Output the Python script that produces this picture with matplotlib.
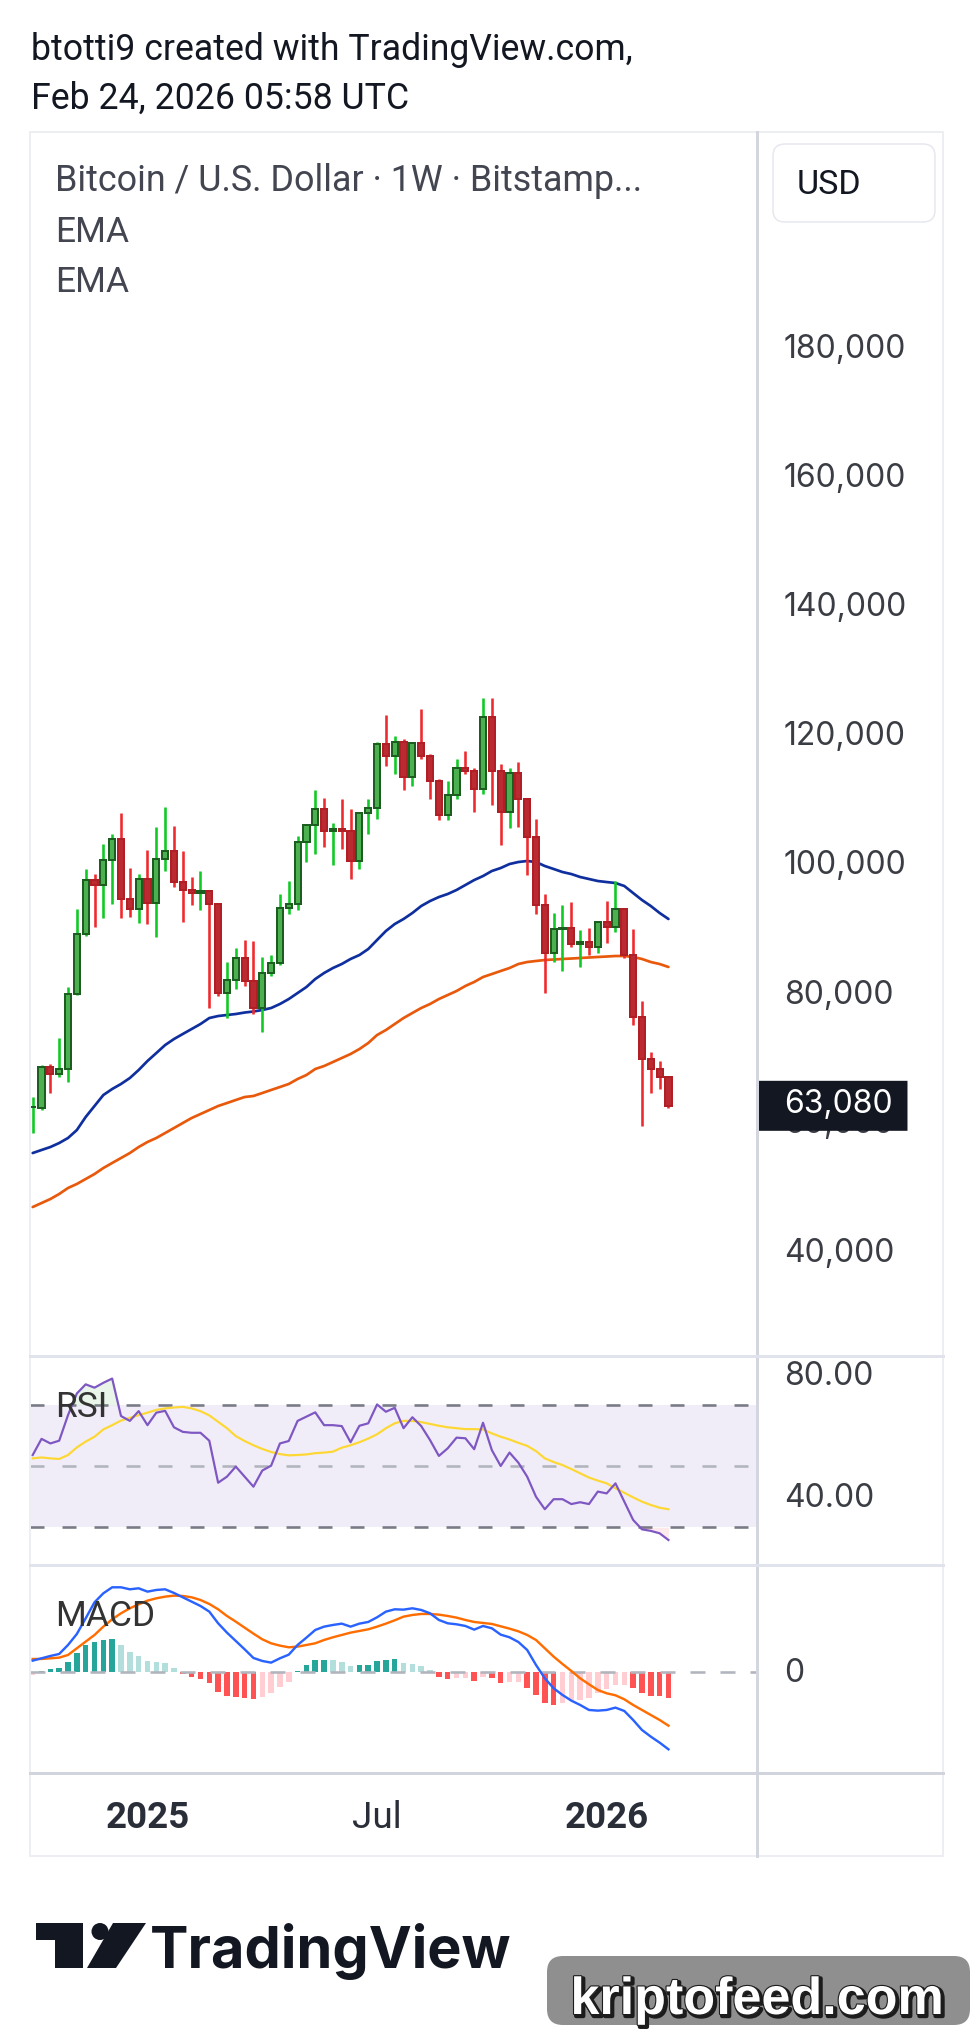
import numpy as np
import pandas as pd
import matplotlib
matplotlib.use('Agg')
import matplotlib.pyplot as plt
import matplotlib.dates as mdates
import matplotlib.patches as mpatches
import matplotlib.patheffects as pe
from matplotlib import transforms

plt.rcParams['font.family'] = ['Roboto', 'DejaVu Sans']

# weekly BTC/USD candles (Bitstamp), first bar week of 2024-10-07
first_week = '2024-10-07'
opens = [62850, 62800, 69040, 67960, 68730, 80340, 89720, 97990, 97210, 101080,
         104330, 95050, 93500, 98250, 94430, 101240, 102480, 97680, 96490, 96100,
         96350, 94270, 80500, 82510, 86010, 82350, 78270, 83590, 85140, 93650,
         94270, 103960, 106500, 108980, 105570, 105880, 105570, 100930, 108360, 109130,
         119040, 117230, 119350, 114030, 119200, 117280, 113410, 108100, 111190, 115330,
         114950, 112080, 123320, 114950, 108620, 114550, 110530, 104640, 94120, 86690,
         90400, 90540, 88080, 88490, 87710, 91490, 90820, 93590, 86420, 76780,
         70270, 68730, 67590]
highs = [64490, 69400, 69550, 73620, 81520, 93550, 99740, 98960, 103610, 105160,
         108400, 99890, 98960, 102680, 106240, 109340, 106390, 102520, 98500, 99480,
         96490, 94430, 85340, 87510, 88750, 88590, 86120, 86420, 95870, 97880,
         104890, 106700, 111970, 110730, 106930, 110570, 109030, 108620, 110570, 119400,
         123620, 120340, 119830, 119300, 124510, 117540, 113670, 113360, 116760, 117990,
         115300, 126260, 126160, 116060, 115420, 116320, 110680, 107480, 95820, 92890,
         94120, 94630, 90290, 90550, 91690, 94780, 97880, 93700, 90450, 79300,
         71410, 69960, 67700]
lows = [58920, 62430, 65110, 67590, 66810, 80200, 89410, 90810, 92200, 94300,
        92200, 92350, 91420, 91220, 89260, 99480, 96960, 91580, 94200, 93390,
        78270, 80080, 76720, 81210, 81670, 77240, 74460, 83220, 84900, 92820,
        93390, 100870, 102060, 103190, 100360, 102880, 98190, 99730, 105160, 107480,
        115730, 114440, 111970, 112590, 116760, 110620, 107320, 107320, 110620, 114440,
        108620, 111400, 109650, 103450, 106130, 106290, 98840, 92780, 80590, 85290,
        83900, 87710, 84580, 86420, 86780, 88270, 90040, 86000, 75590, 60000,
        65110, 65730, 62790]
closes = [62900, 69040, 67960, 68730, 80340, 89720, 97990, 97210, 101080, 104330,
          95050, 93500, 98250, 94430, 101240, 102480, 97680, 96490, 96100, 96350,
          94270, 80500, 82510, 86010, 82350, 78270, 83590, 85140, 93650, 94270,
          103960, 106500, 108980, 105570, 105880, 105570, 100930, 108360, 109130, 119040,
          117230, 119350, 114030, 119200, 117280, 113410, 108100, 111190, 115330, 114950,
          112080, 123320, 114950, 108620, 114550, 110530, 104640, 94120, 86690, 90400,
          90540, 88080, 88490, 87710, 91490, 90820, 93590, 86420, 76780, 70270,
          68730, 67590, 63080]

ema_blue = [55770, 56240, 56700, 57320, 58100, 59330, 61350, 63050, 64750, 65680,
            66460, 67380, 68620, 70020, 71250, 72490, 73420, 74200, 74970, 75740,
            76670, 76980, 77140, 77290, 77520, 77680, 77910, 78220, 78840, 79610,
            80540, 81470, 82710, 83640, 84410, 85030, 85810, 86420, 87350, 88750,
            90140, 91220, 92000, 92930, 94010, 94780, 95400, 95870, 96490, 97260,
            98030, 98650, 99430, 99890, 100510, 100820, 100980, 100820, 100200, 99740,
            99270, 98960, 98500, 98190, 97880, 97720, 97570, 97110, 96020, 94940,
            94010, 92930, 92000]
ema_orange = [47410, 48030, 48650, 49430, 50360, 50980, 51750, 52520, 53450, 54230,
              55000, 55770, 56700, 57480, 58100, 58870, 59640, 60420, 61190, 61810,
              62430, 63050, 63510, 63980, 64440, 64600, 65060, 65530, 65990, 66460,
              67230, 67850, 68780, 69240, 69860, 70480, 71100, 71870, 72800, 74040,
              74810, 75740, 76670, 77450, 78220, 78840, 79610, 80230, 80850, 81630,
              82250, 83020, 83480, 83950, 84410, 85030, 85340, 85500, 85650, 85730,
              85810, 85880, 85960, 86040, 86120, 86190, 86270, 86270, 86120, 85810,
              85340, 85030, 84570]

rsi = [53.7, 59.0, 57.5, 58.4, 66.8, 73.9, 76.9, 75.8, 77.4, 78.8,
       66.5, 64.9, 68.1, 63.5, 67.6, 68.2, 62.8, 61.3, 61.0, 61.0,
       58.4, 44.6, 46.6, 49.9, 46.6, 43.3, 48.6, 50.2, 57.5, 58.3,
       64.9, 66.3, 67.7, 63.5, 63.5, 63.2, 57.9, 63.3, 64.1, 70.3,
       67.9, 69.2, 62.5, 66.1, 63.2, 58.6, 53.4, 55.9, 59.4, 59.2,
       55.6, 64.3, 55.3, 50.1, 54.5, 51.2, 46.6, 40.0, 35.9, 39.2,
       39.2, 37.6, 38.2, 37.6, 41.7, 41.1, 44.4, 38.4, 32.4, 29.3,
       28.8, 28.0, 25.8]
rsi_ma = [52.6, 52.9, 52.6, 52.4, 53.7, 56.2, 58.1, 59.7, 62.1, 63.5,
          65.0, 65.9, 66.8, 67.6, 68.5, 69.0, 69.3, 69.5, 69.0, 68.1,
          66.7, 64.6, 62.5, 59.9, 58.3, 56.9, 55.7, 54.7, 54.0, 53.6,
          53.7, 53.9, 54.3, 54.5, 54.8, 56.1, 56.9, 57.9, 59.1, 60.5,
          62.5, 64.1, 64.9, 64.9, 64.5, 63.9, 63.3, 62.8, 62.5, 62.2,
          62.2, 62.1, 60.8, 59.7, 58.8, 57.7, 56.7, 55.0, 52.6, 51.4,
          50.4, 49.1, 47.7, 46.3, 45.3, 44.4, 42.8, 41.3, 39.8, 38.4,
          37.3, 36.4, 35.9]

macd = [1400, 1680, 1960, 2200, 3280, 4600, 6480, 8400, 9480, 10200,
        10200, 9960, 10080, 9680, 9880, 9960, 9520, 9000, 8480, 7960,
        7280, 5880, 4760, 3760, 2760, 1720, 1360, 1160, 1680, 2120,
        3280, 4160, 5080, 5480, 5680, 5840, 5480, 5840, 6040, 6600,
        7280, 7560, 7520, 7680, 7480, 7080, 6280, 5880, 5760, 5560,
        5120, 5560, 5280, 4520, 4200, 3640, 2680, 880, -720, -1920,
        -2720, -3400, -3920, -4520, -4600, -4520, -4240, -4640, -5720, -6920,
        -7720, -8440, -9240]
signal = [1600, 1600, 1680, 1760, 2080, 2880, 3680, 4480, 5480, 6360,
          7080, 7680, 8160, 8600, 8880, 9080, 9200, 9160, 9000, 8680,
          8200, 7560, 6760, 6080, 5360, 4640, 3960, 3480, 3200, 3000,
          3080, 3280, 3480, 3880, 4200, 4480, 4760, 4960, 5160, 5480,
          5840, 6240, 6680, 6880, 7000, 7000, 6920, 6760, 6560, 6280,
          6040, 5920, 5800, 5520, 5240, 4920, 4480, 3880, 2880, 1880,
          1000, 160, -720, -1440, -2120, -2520, -2760, -3240, -3920, -4520,
          -5120, -5720, -6400]
hist = [-320, 160, 400, 560, 1280, 2280, 3280, 3680, 3880, 4000,
        3280, 2480, 2000, 1400, 1280, 1080, 560, -200, -520, -840,
        -1240, -2320, -2840, -2920, -3040, -3240, -3000, -2520, -1720, -1120,
        120, 880, 1480, 1500, 1440, 1200, 760, 840, 860, 1400,
        1480, 1560, 1080, 1040, 800, 280, -600, -840, -720, -680,
        -1000, -520, -720, -1240, -1200, -1160, -1840, -2720, -3640, -3920,
        -3720, -3320, -3300, -3120, -2440, -2040, -1520, -1480, -1920, -2440,
        -2800, -2840, -3040]

price_ticks = [40000, 60000, 80000, 100000, 120000, 140000, 160000, 180000]
rsi_ticks = [40, 80]
macd_ticks = [0]
time_ticks = ['2025-01-06', '2025-07-07', '2026-01-05']
time_labels = ['2025', 'Jul', '2026']
time_bold = [True, False, True]

header1 = 'btotti9 created with TradingView.com,'
header2 = 'Feb 24, 2026 05:58 UTC'
title = 'Bitcoin / U.S. Dollar \u00b7 1W \u00b7 Bitstamp...'

# ---------------------------------------------------------------
dates = pd.date_range(first_week, periods=len(closes), freq='7D')
x = mdates.date2num(dates)
o = np.array(opens); c = np.array(closes)
hi = np.array(highs); lo = np.array(lows)

W, H = 972, 2037
fig = plt.figure(figsize=(W / 100, H / 100), dpi=100)
fig.patch.set_facecolor('white')


def box(x0, y0, x1, y1):
    return [x0 / W, 1 - y1 / H, (x1 - x0) / W, (y1 - y0) / H]


PX = 72 / 100  # points per pixel
TXT = '#3b3d44'
SCALE_FONT = ['Inter', 'Roboto', 'DejaVu Sans']

ax = fig.add_axes(box(30, 132, 757, 1356))
axr = fig.add_axes(box(30, 1356, 757, 1565), sharex=ax)
axm = fig.add_axes(box(30, 1565, 757, 1773), sharex=ax)
axt = fig.add_axes(box(30, 1773, 757, 1856), sharex=ax)
for a in (ax, axr, axm, axt):
    a.set_facecolor('none')
    for s in a.spines.values():
        s.set_visible(False)
    a.tick_params(left=False, bottom=False, labelleft=False, labelbottom=False)

ax.set_xlim(x[0] - 2.14, x[0] + 574.2)
ax.set_ylim(24350, 213830)
axr.set_ylim(17.6, 86.2)
axm.set_ylim(-12084, 12876)
axt.set_ylim(0, 1)

# candles
up = c >= o
wick_col = np.where(up, '#0fca24', '#ef2a2e')
face_col = np.where(up, '#4caf50', '#bb2931')
edge_col = np.where(up, '#1b5e20', '#b11f26')
ax.vlines(x, lo, hi, colors=wick_col, linewidth=2.6 * PX, zorder=3)
ax.bar(x, np.abs(c - o), bottom=np.minimum(o, c), width=4.9,
       color=face_col, edgecolor=edge_col, linewidth=2.0 * PX, zorder=4)

ax.plot(x, ema_blue, color='#0f2f9e', linewidth=2.7 * PX, zorder=2,
        solid_capstyle='round')
ax.plot(x, ema_orange, color='#e8590c', linewidth=2.7 * PX, zorder=2,
        solid_capstyle='round')

# right scale labels
lab_off = transforms.offset_copy(ax.get_yaxis_transform(), fig=fig, y=-7, units='dots')
for v in price_ticks:
    ax.text(1.0371, v, f'{v:,}', transform=lab_off, ha='left', va='baseline',
            fontsize=23, family=SCALE_FONT, color=TXT, clip_on=False)

# last price tag
last = closes[-1]
tag_tr = ax.get_yaxis_transform()
tag_y = ax.transData.transform((0, last))[1]
b0 = ax.transData.inverted().transform((0, tag_y - 25))[1]
b1 = ax.transData.inverted().transform((0, tag_y + 25))[1]
tag_box = mpatches.FancyBboxPatch((1.002, b0), 0.205, b1 - b0, transform=tag_tr,
                                  boxstyle='round,pad=0,rounding_size=0.008',
                                  facecolor='#131722', edgecolor='none',
                                  clip_on=False, zorder=20)
ax.add_patch(tag_box)
ax.text(1.0371, last, f'{last:,}', transform=lab_off, ha='left', va='baseline',
        fontsize=23, family=SCALE_FONT, color='white', clip_on=False, zorder=21)

# RSI pane
axr.axhspan(30, 70, color='#7e57c2', alpha=0.1, linewidth=0, zorder=0)
for lvl, col in ((70, '#787b86'), (50, '#b2b5be'), (30, '#787b86')):
    axr.axhline(lvl, color=col, linewidth=2.6 * PX, dashes=(14 / 2.6, 18 / 2.6), zorder=1)
r = np.array(rsi)
axr.fill_between(x, r, 70, where=r > 70, interpolate=True, color='#4caf50',
                 alpha=0.12, linewidth=0, zorder=1)
axr.fill_between(x, r, 30, where=r < 30, interpolate=True, color='#f23645',
                 alpha=0.10, linewidth=0, zorder=1)
axr.plot(x, rsi_ma, color='#fdd835', linewidth=2.2 * PX, zorder=2)
axr.plot(x, rsi, color='#7e57c2', linewidth=2.2 * PX, zorder=3)
rlab = transforms.offset_copy(axr.get_yaxis_transform(), fig=fig, y=-10, units='dots')
for v in rsi_ticks:
    axr.text(1.0371, v, f'{v:.2f}', transform=rlab, ha='left', va='baseline',
             fontsize=23, family=SCALE_FONT, color=TXT, clip_on=False)

# MACD pane
hv = np.array(hist)
prev = np.concatenate([[hv[0] - 1], hv[:-1]])
hcol = np.where(hv >= 0, np.where(hv >= prev, '#26a69a', '#b2dfdb'),
                np.where(hv > prev, '#ffcdd2', '#ff5252'))
axm.bar(x, hv, width=4.4, color=hcol, linewidth=0, zorder=1)
axm.axhline(0, color='#b2b5be', linewidth=2.6 * PX, dashes=(15 / 2.6, 15 / 2.6), zorder=2)
axm.plot(x, signal, color='#ff6d00', linewidth=2.4 * PX, zorder=3)
axm.plot(x, macd, color='#2962ff', linewidth=2.4 * PX, zorder=4)
mlab = transforms.offset_copy(axm.get_yaxis_transform(), fig=fig, y=-10, units='dots')
for v in macd_ticks:
    axm.text(1.0371, v, f'{v}', transform=mlab, ha='left', va='baseline',
             fontsize=23, family=SCALE_FONT, color=TXT, clip_on=False)

# time axis
for d, lab, b in zip(time_ticks, time_labels, time_bold):
    axt.text(mdates.date2num(pd.Timestamp(d)), 0.334, lab, ha='center', va='baseline',
             fontsize=26.5, fontweight='bold' if b else 'normal', color='#2a2e39')

# ---------------------------------------------------------------
# overlay in pixel coordinates: frame, texts, logo, watermark
ov = fig.add_axes([0, 0, 1, 1], zorder=10)
ov.set_xlim(0, W)
ov.set_ylim(H, 0)
ov.axis('off')
ov.patch.set_alpha(0)

ov.add_patch(mpatches.Rectangle((30, 132), 913, 1724, fill=False,
                                edgecolor='#eceef2', linewidth=2 * PX))
ov.plot([757, 757], [132, 1856], color='#d3d6de', linewidth=3 * PX)
for yy, col in ((1356, '#e0e3eb'), (1565, '#e0e3eb'), (1773, '#d1d4dc')):
    ov.plot([30, 943], [yy, yy], color=col, linewidth=3 * PX)

ov.text(31, 59.5, header1, fontsize=25.7, color='#131722', va='baseline')
ov.text(31, 109, header2, fontsize=25.7, color='#131722', va='baseline')
ov.text(55, 191, title, fontsize=25.8, color='#434651', va='baseline')
ov.text(55, 242, 'EMA', fontsize=25.5, color='#434651', va='baseline')
ov.text(55, 292, 'EMA', fontsize=25.5, color='#434651', va='baseline')
ov.text(55, 1417, 'RSI', fontsize=25.5, color='#333333', va='baseline')
ov.text(55, 1626, 'MACD', fontsize=25.5, color='#333333', va='baseline')

ov.add_patch(mpatches.FancyBboxPatch((773, 144), 162, 78,
                                     boxstyle='round,pad=0,rounding_size=12',
                                     facecolor='white', edgecolor='#e6e8ee',
                                     linewidth=1.5 * PX))
ov.text(797, 194, 'USD', fontsize=24.5, color='#131722', va='baseline')

# TradingView logo
ov.add_patch(mpatches.Polygon([(36, 1923), (83, 1923), (83, 1968), (55, 1968),
                               (55, 1940), (36, 1940)], closed=True,
                              facecolor='#131722', edgecolor='none'))
ov.add_patch(mpatches.Circle((100, 1931.5), 8.5, facecolor='#131722', edgecolor='none'))
ov.add_patch(mpatches.Polygon([(113, 1923), (146, 1923), (116, 1968), (87, 1968)],
                              closed=True, facecolor='#131722', edgecolor='none'))
ov.text(150, 1968, 'TradingView', fontsize=41.5, fontweight='bold',
        family=['Inter', 'Roboto', 'DejaVu Sans'], color='#131722', va='baseline')

# watermark
ov.add_patch(mpatches.FancyBboxPatch((547, 1956), 423, 69,
                                     boxstyle='round,pad=0,rounding_size=16',
                                     facecolor='#8f8f8f', edgecolor='none'))
ov.text(757, 2014, 'kriptofeed.com', fontsize=37.5, fontweight='bold',
        family=['Liberation Sans', 'DejaVu Sans'], color='white',
        ha='center', va='baseline',
        path_effects=[pe.Stroke(linewidth=3, foreground='#1c1c1c', offset=(1.5, -1.5)),
                      pe.Stroke(linewidth=1.6, foreground='#1c1c1c'),
                      pe.Normal()])

fig.savefig('out.png', dpi=100, facecolor='white')
